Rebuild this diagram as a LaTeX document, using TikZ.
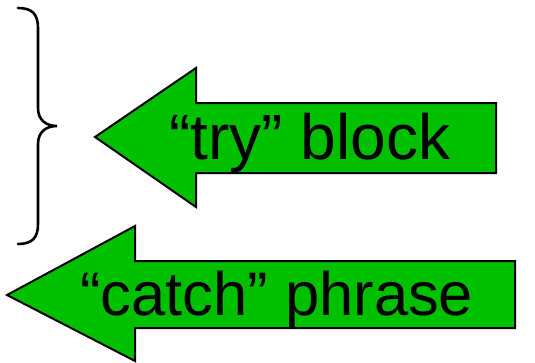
\documentclass[tikz,border=0pt]{standalone}
\usepackage{fontspec}
\setmainfont{Liberation Sans}
\definecolor{arrowgreen}{RGB}{0,192,0}
\begin{document}
\begin{tikzpicture}[x=1pt,y=-1pt,
  bigarrow/.style={draw=black,line width=2pt,fill=arrowgreen,line join=miter},
  label/.style={anchor=base west,inner sep=0pt},
  brace/.style={draw=black,line width=2.6pt,line cap=round}]
\useasboundingbox (0,0) rectangle (535,362);
% top arrow
\draw[bigarrow] (95,137) -- (196,68) -- (196,103) -- (496,103) -- (496,173) -- (196,173) -- (196,207) -- cycle;
\node[label,font=\fontsize{64}{70}\selectfont] (try) at (169,159) {“try” block};
% bottom arrow
\draw[bigarrow] (7,295) -- (135,226) -- (135,261) -- (515,261) -- (515,328) -- (135,328) -- (135,361) -- cycle;
\node[label,font=\fontsize{61.5}{70}\selectfont] (catch) at (80,315) {“catch” phrase};
% brace
\draw[brace] (18,8) .. controls (32,8) and (38,14) .. (38,28) -- (38,108) .. controls (38,120) and (46,126) .. (57,126)
  .. controls (46,126) and (38,132) .. (38,144) -- (38,224) .. controls (38,238) and (32,244) .. (18,244);
\end{tikzpicture}
\end{document}
